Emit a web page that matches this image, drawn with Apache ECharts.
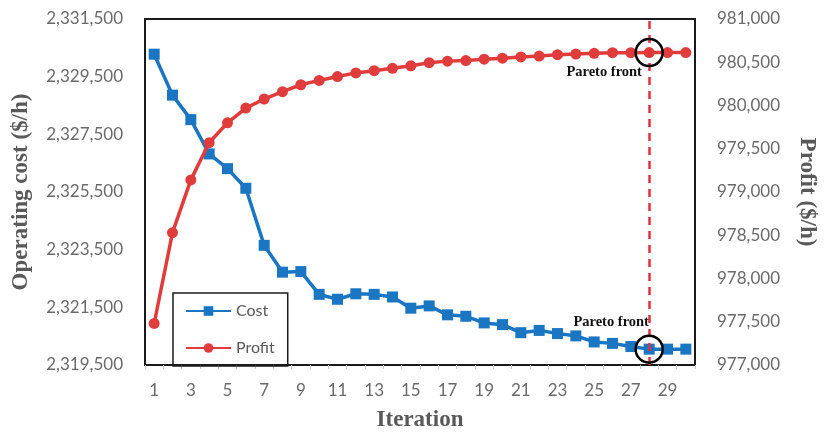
<!DOCTYPE html>
<html>
<head>
<meta charset="utf-8">
<script src="https://cdn.jsdelivr.net/npm/echarts@6/dist/echarts.min.js"></script>
<style>html,body{margin:0;padding:0;background:#fff}#c{width:826px;height:437px}</style>
</head>
<body>
<div id="c"></div>
<script>
var iterations = ['1','2','3','4','5','6','7','8','9','10','11','12','13','14','15','16','17','18','19','20','21','22','23','24','25','26','27','28','29','30'];
var costValues = [2330280, 2328860, 2328010, 2326820, 2326310, 2325630, 2323650, 2322720, 2322740, 2321950, 2321780, 2321970, 2321950, 2321860, 2321470, 2321550, 2321240, 2321190, 2320960, 2320900, 2320620, 2320700, 2320590, 2320510, 2320300, 2320250, 2320140, 2320050, 2320050, 2320050];
var profitValues = [977480, 978530, 979140, 979570, 979800, 979970, 980075, 980160, 980240, 980290, 980335, 980377, 980403, 980430, 980459, 980495, 980513, 980520, 980535, 980547, 980561, 980572, 980588, 980595, 980603, 980610, 980610, 980612, 980612, 980612];
var costAxisMin = 2319500, costAxisMax = 2331500, costAxisStep = 2000;
var profitAxisMin = 977000, profitAxisMax = 981000, profitAxisStep = 500;
var paretoIteration = '28';
var paretoLabel = 'Pareto front';

var fmt = function (v) { return Math.round(v).toString().replace(/\B(?=(\d{3})+(?!\d))/g, ','); };
var costShifted = costValues.map(function (v) { return v - costAxisMin; });
var pIdx = iterations.indexOf(paretoIteration);

var chart = echarts.init(document.getElementById('c'), null, {renderer: 'canvas'});
var labelStyle = {color: '#6a6a6a', fontFamily: 'Lato', fontSize: 17};
var nameStyle = {color: '#595959', fontFamily: 'Liberation Serif', fontWeight: 'bold', fontSize: 23};
var paretoText = {fontFamily: 'Liberation Serif', fontWeight: 'bold', fontSize: 14.5, color: '#111'};

chart.setOption({
  animation: false,
  grid: {left: 145, right: 120, top: 19, bottom: 65, show: true, borderColor: '#1a1a1a', borderWidth: 2, backgroundColor: 'transparent'},
  legend: {
    orient: 'vertical', left: 173, top: 293,
    data: ['Cost', 'Profit'],
    itemWidth: 45, itemHeight: 12, itemGap: 17,
    padding: [8, 13, 8, 12],
    borderColor: '#1a1a1a', borderWidth: 1.5,
    textStyle: {color: '#595959', fontFamily: 'Lato', fontSize: 16, lineHeight: 20}
  },
  xAxis: {
    type: 'category', data: iterations, boundaryGap: true,
    name: 'Iteration', nameLocation: 'middle', nameGap: 44, nameTextStyle: nameStyle,
    axisLine: {show: true, lineStyle: {color: '#1a1a1a', width: 2}},
    axisTick: {show: true, interval: 0, length: 4, lineStyle: {color: '#c8c8c8'}},
    axisLabel: Object.assign({interval: 1, margin: 17}, labelStyle),
    splitLine: {show: false}
  },
  yAxis: [
    {
      type: 'value', min: 0, max: costAxisMax - costAxisMin, interval: costAxisStep,
      name: 'Operating cost ($/h)', nameLocation: 'middle', nameGap: 112, nameTextStyle: nameStyle,
      axisLine: {show: false}, axisTick: {show: false}, splitLine: {show: false},
      axisLabel: Object.assign({margin: 22, formatter: function (v) { return fmt(v + costAxisMin); }}, labelStyle)
    },
    {
      type: 'value', min: profitAxisMin, max: profitAxisMax, interval: profitAxisStep,
      name: 'Profit ($/h)', nameLocation: 'middle', nameGap: 100, nameRotate: -90, nameTextStyle: nameStyle,
      axisLine: {show: false}, axisTick: {show: false}, splitLine: {show: false},
      axisLabel: Object.assign({margin: 22, formatter: fmt}, labelStyle)
    }
  ],
  series: [
    {
      name: 'Cost', type: 'line', yAxisIndex: 0, data: costShifted,
      symbol: 'rect', symbolSize: 11,
      lineStyle: {color: '#1a75c2', width: 3.5}, itemStyle: {color: '#1a75c2'},
      z: 3,
      markPoint: {
        symbol: 'circle', symbolSize: 27, silent: true,
        itemStyle: {color: 'rgba(0,0,0,0)', borderColor: '#000', borderWidth: 2.5},
        label: Object.assign({show: true, formatter: paretoLabel, position: 'inside', offset: [-38, -27]}, paretoText),
        data: [{coord: [paretoIteration, costShifted[pIdx]]}]
      }
    },
    {
      name: 'Profit', type: 'line', yAxisIndex: 1, data: profitValues,
      symbol: 'circle', symbolSize: 11,
      lineStyle: {color: '#e03c3c', width: 3.5}, itemStyle: {color: '#e03c3c'},
      z: 4,
      markLine: {
        silent: true, symbol: 'none',
        lineStyle: {color: '#e8303a', type: [8, 6], width: 2.5},
        label: {show: false},
        data: [{xAxis: paretoIteration}]
      },
      markPoint: {
        symbol: 'circle', symbolSize: 27, silent: true,
        itemStyle: {color: 'rgba(0,0,0,0)', borderColor: '#000', borderWidth: 2.5},
        label: Object.assign({show: true, formatter: paretoLabel, position: 'inside', offset: [-45, 20]}, paretoText),
        data: [{coord: [paretoIteration, profitValues[pIdx]]}]
      }
    }
  ]
});
</script>
</body>
</html>
